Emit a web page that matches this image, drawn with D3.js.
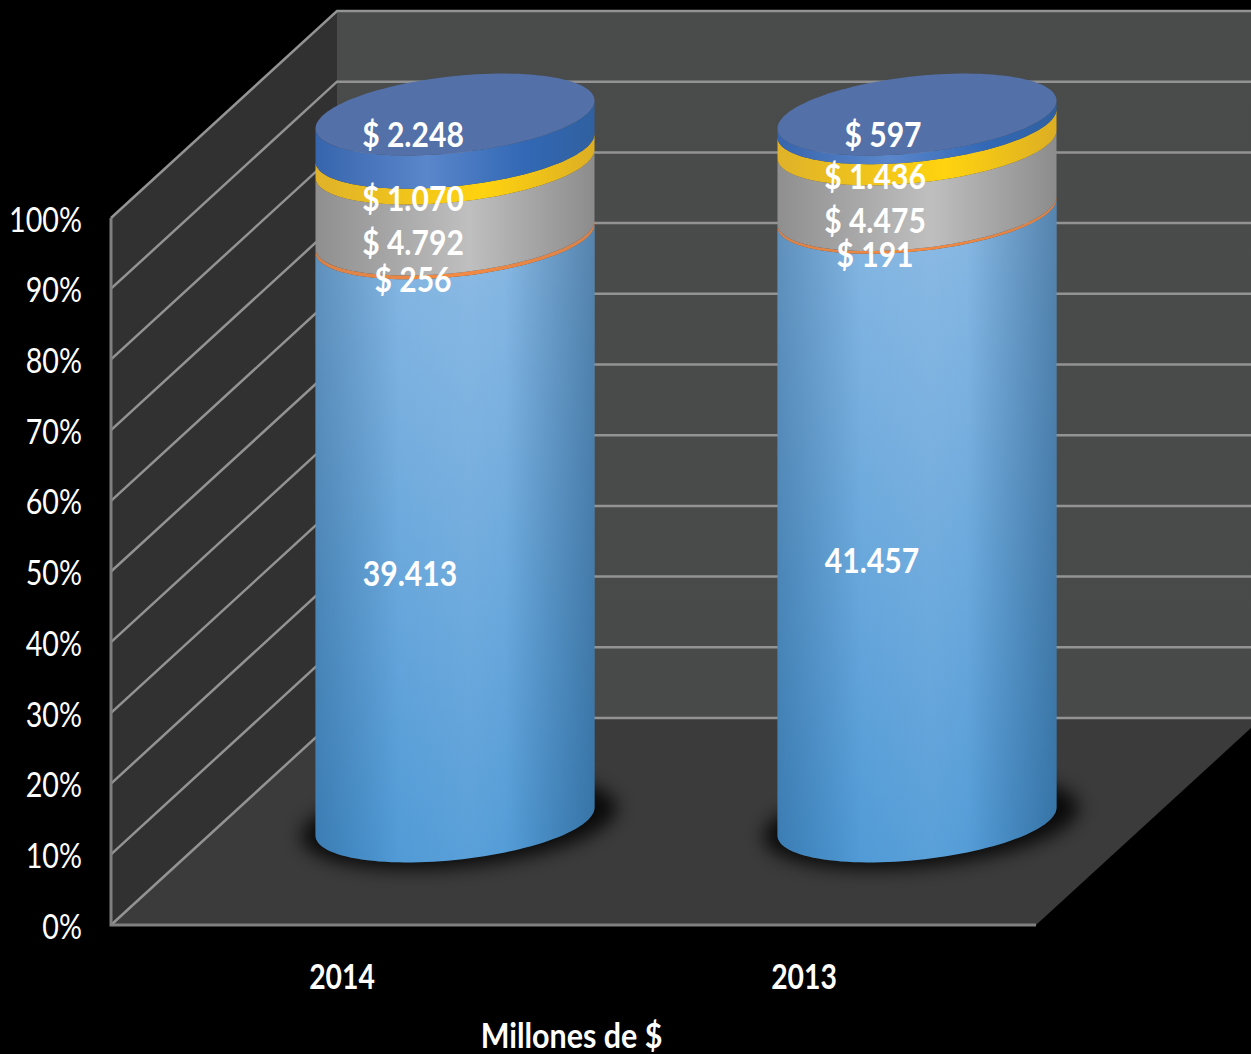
<!DOCTYPE html>
<html>
<head>
<meta charset="utf-8">
<script src="https://cdn.jsdelivr.net/npm/d3@7/dist/d3.min.js"></script>
<style>
html,body{margin:0;padding:0;background:#000;overflow:hidden}
text{font-family:Lato,"Open Sans",sans-serif;fill:#fff}
</style>
</head>
<body>
<script>
// Composition of each year, millones de $
const years = ["2014", "2013"];
const seriesKeys = ["a", "b", "c", "d", "e"];
const serieA = [39413, 41457];
const serieB = [256, 191];
const serieC = [4792, 4475];
const serieD = [1070, 1436];
const serieE = [2248, 597];
const percentTicks = [0, 0.1, 0.2, 0.3, 0.4, 0.5, 0.6, 0.7, 0.8, 0.9, 1];

const W = 1251, H = 1054;
const rows = years.map((y, i) => ({year: y, a: serieA[i], b: serieB[i], c: serieC[i], d: serieD[i], e: serieE[i]}));
const stacked = d3.stack().keys(seriesKeys).offset(d3.stackOffsetExpand)(rows);

// Oblique projection of the chart box: depth 0 is the front plane, 1 the back wall
const DX = 226, DY = 207;
const yScale = d3.scaleLinear().domain([0, 1]).range([925, 218]);
const xScale = d3.scalePoint().domain(years).range([342, 804]);
const X0 = 111, X1 = 1036;
const proj = (x, v, d) => [x + DX * d, yScale(v) - DY * d];

const svg = d3.select("body").append("svg").attr("width", W).attr("height", H)
  .style("display", "block").style("background", "#000");
const defs = svg.append("defs");

// Gradients
function linear(id, stops, x2, y2) {
  const g = defs.append("linearGradient").attr("id", id)
    .attr("x1", 0).attr("y1", 0).attr("x2", x2).attr("y2", y2);
  stops.forEach(s => g.append("stop").attr("offset", s[0]).attr("stop-color", s[1]).attr("stop-opacity", s[2] ?? 1));
}
linear("sideA", [[0, "#80b3e1"], [1, "#4795d4"]], 0, 1);
linear("sideB", [[0, "#d9824a"], [.5, "#f58a42"], [1, "#d9824a"]], 1, 0);
linear("sideC", [[0, "#8f8f8f"], [.55, "#bfbfbf"], [1, "#8c8c8c"]], 1, 0);
linear("sideD", [[0, "#dfb22a"], [.6, "#ffd30f"], [1, "#dcae24"]], 1, 0);
linear("sideE", [[0, "#3765ad"], [.4, "#5a86cb"], [.75, "#3268b5"], [1, "#30609f"]], 1, 0);
linear("edge", [[0, "#1c4468", .3], [.3, "#1c4468", 0], [.68, "#1c4468", 0], [1, "#1c4468", .42]], 1, 0);
linear("sheen", [[0, "#fff", 0], [.55, "#fff", .1], [1, "#fff", 0]], 1, 0);
linear("wallBack", [[0, "#4a4c4b"], [1, "#484a49"]], 0, 1);
const fills = {a: "url(#sideA)", b: "url(#sideB)", c: "url(#sideC)", d: "url(#sideD)", e: "url(#sideE)"};

const shadowBlur = defs.append("filter").attr("id", "soft").attr("x", "-30%").attr("y", "-50%").attr("width", "160%").attr("height", "200%");
shadowBlur.append("feGaussianBlur").attr("stdDeviation", 9);

// Chart box: left wall, back wall, floor
const poly = pts => "M" + pts.map(p => p.join(",")).join("L") + "Z";
const box = svg.append("g");
box.append("path").attr("fill", "#303130")
  .attr("d", poly([proj(X0, 0, 0), proj(X0, 1, 0), proj(X0, 1, 1), proj(X0, 0, 1)]));
box.append("path").attr("fill", "url(#wallBack)")
  .attr("d", poly([proj(X0, 0, 1), proj(X0, 1, 1), proj(X1, 1, 1), proj(X1, 0, 1)]));
box.append("path").attr("fill", "#3a3b3a")
  .attr("d", poly([proj(X0, 0, 0), proj(X1, 0, 0), proj(X1, 0, 1), proj(X0, 0, 1)]));

// Gridlines run along the left wall and across the back wall
const grid = box.append("g").attr("fill", "none").attr("stroke", "#939393").attr("stroke-width", 2.5);
percentTicks.forEach(t => {
  grid.append("path").attr("d", d3.line()([proj(X0, t, 0), proj(X0, t, 1), proj(X1, t, 1)]));
});
grid.append("path").attr("stroke-width", 3).attr("stroke", "#808080")
  .attr("d", d3.line()([proj(X0, 1, 0), proj(X0, 0, 0), proj(X1, 0, 0)]));

// Tilted cylinders stand half way into the box
const RX = 139.5, RY = 38.5, TILT = 0.1;
const ringPoint = (cx, cy, t) => [cx + RX * Math.cos(t), cy + RY * Math.sin(t) - TILT * RX * Math.cos(t)];
const frontArc = (cx, cy) => d3.range(0, 61).map(i => ringPoint(cx, cy, Math.PI * i / 60));
const ring = (cx, cy) => d3.range(0, 121).map(i => ringPoint(cx, cy, 2 * Math.PI * i / 120));
const line = d3.line();
const area = (cx, low, high) => line(frontArc(cx, low)) + "L" + line(frontArc(cx, high).reverse()).slice(1) + "Z";

const bars = svg.append("g");
years.forEach((year, i) => {
  const [cx, baseY] = proj(xScale(year), 0, 0.5);
  const [, topY] = proj(xScale(year), 1, 0.5);
  const g = bars.append("g");

  g.append("ellipse").attr("cx", cx + 4).attr("cy", baseY + 1).attr("rx", RX + 19).attr("ry", RY + 6)
    .attr("transform", `rotate(-5.7 ${cx} ${baseY})`)
    .attr("fill", "#000").attr("opacity", .82).attr("filter", "url(#soft)");

  stacked.forEach(s => {
    const [lo, hi] = s[i];
    const d = area(cx, proj(0, lo, .5)[1], proj(0, hi, .5)[1]);
    g.append("path").attr("fill", fills[s.key]).attr("d", d);
    if (s.key === "a") {
      // The large segment carries extra modelling across its curve
      g.append("path").attr("fill", "url(#sheen)").attr("d", d);
      g.append("path").attr("fill", "url(#edge)").attr("d", d);
    }
  });
  g.append("path").attr("fill", "#5370a9").attr("d", line(ring(cx, topY)) + "Z");
});

// Value labels sit on the front face of each segment; the last one rides on the cap
const labelFmt = d3.formatLocale({decimal: ",", thousands: ".", grouping: [3], currency: ["$ ", ""]}).format("$,");
const plainFmt = d3.formatLocale({decimal: ",", thousands: ".", grouping: [3], currency: ["", ""]}).format(",");
const FRONT = 43, LABEL_SHIFT = -42;
const squeezed = (sel, x, y, sx) => sel.attr("transform", `translate(${x},${y}) scale(${sx},1)`);
const labels = svg.append("g").attr("font-weight", 700).attr("font-size", 35).attr("text-anchor", "middle");
years.forEach((year, i) => {
  const cx = proj(xScale(year), 0, .5)[0];
  const topY = proj(0, 1, .5)[1];
  stacked.forEach((s, k) => {
    const [lo, hi] = s[i];
    const last = k === stacked.length - 1;
    const y = last ? topY + 20 : proj(0, (lo + hi) / 2, .5)[1] + FRONT;
    const v = s[i].data[s.key];
    const nudge = k === 0 ? -3 : (last && v < 1000 ? 8 : 0);
    const t = labels.append("text").attr("dy", "0.36em").text(k === 0 ? plainFmt(v) : labelFmt(v));
    squeezed(t, cx + LABEL_SHIFT + nudge, y, 0.86);
  });
});

// Percent axis on the left
const axis = svg.append("g").attr("font-size", 35).attr("text-anchor", "end");
percentTicks.forEach(t => {
  const label = axis.append("text").attr("dy", "0.36em").text(d3.format(".0%")(t));
  squeezed(label, 82, yScale(t) + 1, 0.82);
});

// Category axis and unit caption
const cats = svg.append("g").attr("font-size", 35).attr("font-weight", 700).attr("text-anchor", "middle");
years.forEach(year => {
  squeezed(cats.append("text").attr("dy", "0.36em").text(year), xScale(year), 976, 0.81);
});
squeezed(cats.append("text").attr("dy", "0.36em").text("Millones de $"), 571.5, 1035, 0.87);
</script>
</body>
</html>
